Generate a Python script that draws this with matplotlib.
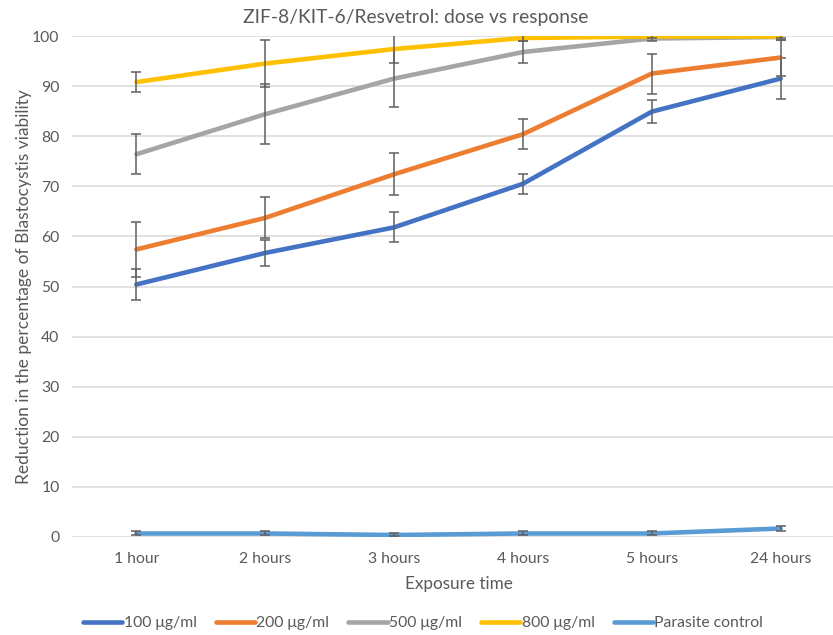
import matplotlib
matplotlib.use("Agg")
import matplotlib.pyplot as plt
import numpy as np

plt.rcParams['font.family'] = ['Lato', 'DejaVu Sans']

# Exposure times and mean reduction (%) with error for each dose
hours = ["1 hour", "2 hours", "3 hours", "4 hours", "5 hours", "24 hours"]

dose_100 = [50.4, 56.7, 61.8, 70.5, 84.9, 91.5]
err_100 = [3.1, 2.6, 3.0, 2.0, 2.3, 4.1]

dose_200 = [57.4, 63.7, 72.4, 80.4, 92.5, 95.7]
err_200 = [5.5, 4.1, 4.2, 3.0, 4.0, 3.6]

dose_500 = [76.4, 84.4, 91.5, 96.8, 99.5, 99.8]
err_500 = [4.0, 6.0, 5.7, 2.2, 0.5, 0.6]

dose_800 = [90.8, 94.5, 97.4, 99.6, 99.9, 99.9]
err_800 = [2.0, 4.7, 2.8, 0.5, 0.3, 0.3]

control = [0.7, 0.7, 0.4, 0.7, 0.7, 1.7]
err_control = [0.4, 0.4, 0.3, 0.4, 0.4, 0.5]

labels = ["100 μg/ml", "200 μg/ml", "500 μg/ml", "800 μg/ml", "Parasite control"]
colors = ["#4472C4", "#ED7D31", "#A5A5A5", "#FFC000", "#5B9BD5"]
series = [dose_100, dose_200, dose_500, dose_800, control]
errors = [err_100, err_200, err_500, err_800, err_control]

TEXT = "#595959"

fig = plt.figure(figsize=(8.33, 6.35), dpi=100)
# plot area runs slightly past the right edge of the figure
ax = fig.add_axes([72 / 833, 98 / 635, 773 / 833, 501 / 635])

x = np.arange(len(hours))
for i, (vals, errs) in enumerate(zip(series, errors)):
    ax.plot(x, vals, color=colors[i], lw=3.3, label=labels[i],
            solid_capstyle="round", zorder=3 + 2 * i)
    ax.errorbar(x, vals, yerr=errs, fmt="none", ecolor="#5f5f5f",
                elinewidth=1.1, capsize=3.3, capthick=1.1, zorder=4 + 2 * i)

ax.set_xlim(-0.5, len(hours) - 0.5)
ax.set_ylim(0, 100)
ax.set_yticks(np.arange(0, 101, 10))
ax.set_xticks(x)
ax.set_xticklabels(hours)
ax.grid(axis="y", color="#D9D9D9", lw=1.1, zorder=0)
ax.set_axisbelow(True)
for s in ax.spines.values():
    s.set_visible(False)
ax.tick_params(length=0, labelsize=11.3, colors=TEXT)
ax.tick_params(axis="x", pad=11)
ax.tick_params(axis="y", pad=9)

ax.set_xlabel("Exposure time", fontsize=12.3, color=TEXT, labelpad=7)
ax.set_ylabel("Reduction in the percentage of Blastocystis viability",
              fontsize=12.5, color=TEXT, labelpad=0)
fig.text(416 / 833, 1 - 17 / 635, "ZIF-8/KIT-6/Resvetrol: dose vs response",
         ha="center", va="center", fontsize=13.9, color=TEXT)

fig.legend(loc="center", bbox_to_anchor=(0.508, 1 - 623 / 635), ncol=5,
           frameon=False, fontsize=11.3, labelcolor=TEXT, handlelength=2.5,
           handletextpad=0.1, columnspacing=1.2)

fig.savefig("out.png", dpi=100)
